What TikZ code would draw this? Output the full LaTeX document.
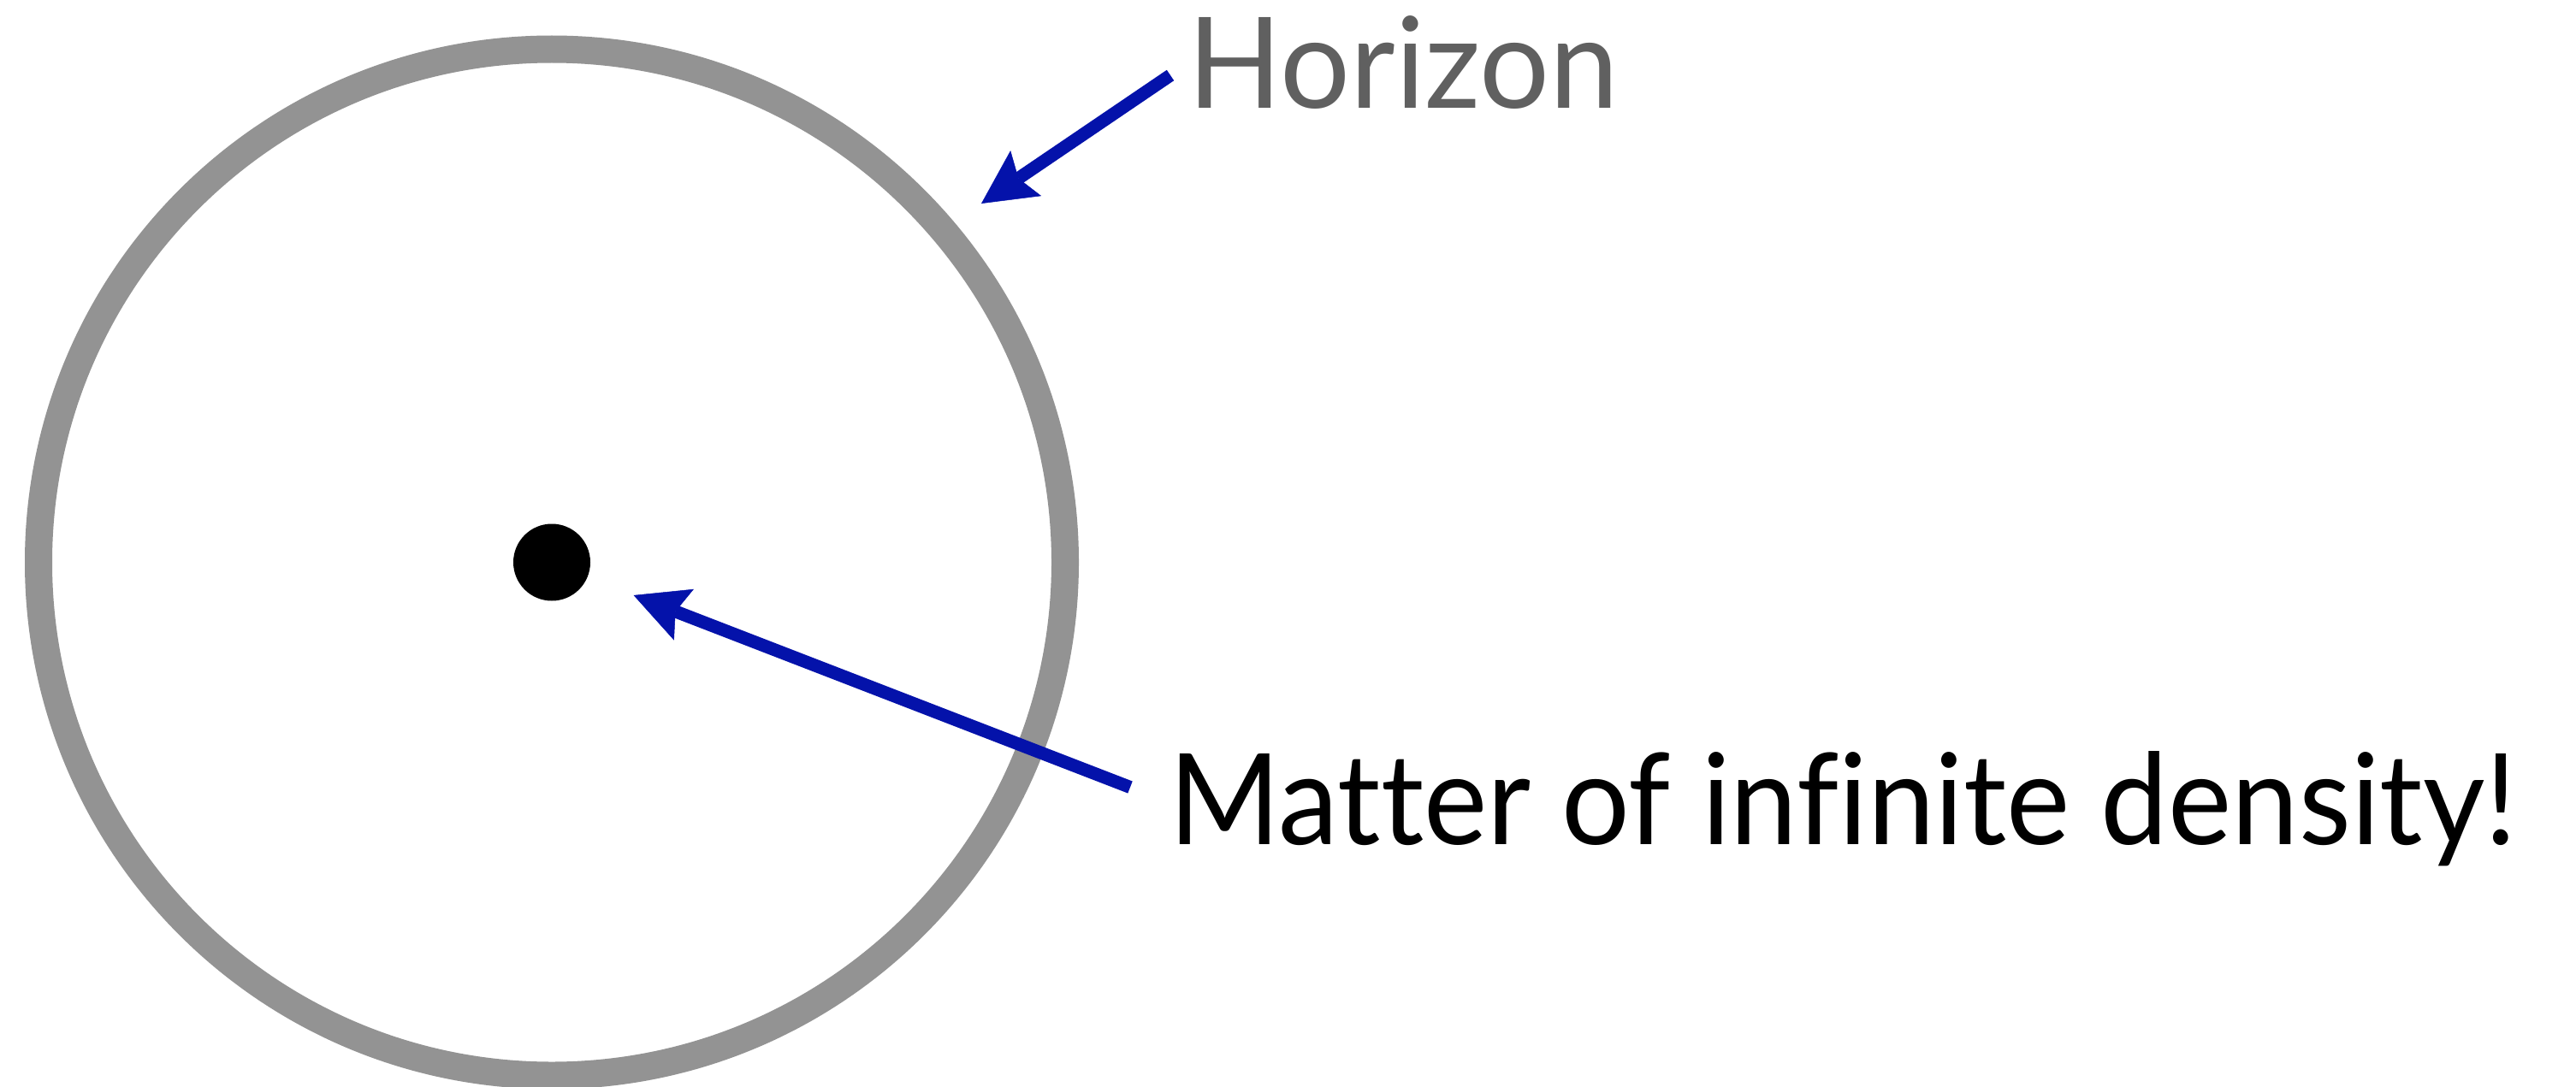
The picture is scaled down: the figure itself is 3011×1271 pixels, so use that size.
\documentclass[tikz,border=0pt]{standalone}
\usepackage{fontspec}
\setmainfont{Lato}[Ligatures=NoCommon]
\usetikzlibrary{arrows.meta}
\definecolor{ringgray}{RGB}{147,147,147}
\definecolor{labelgray}{RGB}{96,96,96}
\definecolor{arrowblue}{RGB}{4,18,170}
\tikzset{
  pointer/.style={draw=arrowblue, line width=15pt, line cap=butt,
    -{Stealth[length=63pt,width=64pt,inset=10.5pt,line width=0.5pt]}},
  lbl/.style={inner sep=0pt, anchor=base west},
}
\begin{document}
\begin{tikzpicture}[x=1pt,y=-1pt]
\useasboundingbox (0,0) rectangle (3011,1271);
\fill[white] (0,0) rectangle (3011,1271);
% horizon ring
\draw[ringgray, line width=32pt] (645,657.5) circle[radius=600pt];
% singularity
\node[circle, fill=black, inner sep=0pt, minimum size=90pt] (dot) at (645,657.5) {};
% labels
\node[lbl, text=labelgray] (horizon) at (1388,127)
  {\fontsize{148}{160}\selectfont\resizebox{504pt}{\height}{Horizon}};
\node[lbl, text=black] (matter) at (1366,987)
  {\fontsize{148}{160}\selectfont\resizebox{1576pt}{\height}{Matter of infinite density!}};
% connector ends
\coordinate (htail) at (1368,88);
\coordinate (htip) at (1147,238);
\coordinate (mtail) at (1321,920.5);
\coordinate (mtip) at (740.6,696);
\draw[pointer] (htail) -- (htip);
\draw[pointer] (mtail) -- (mtip);
\end{tikzpicture}
\end{document}
